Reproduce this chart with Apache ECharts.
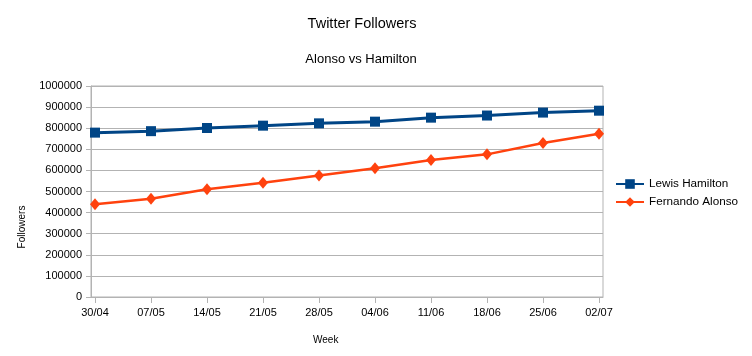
<!DOCTYPE html>
<html>
<head>
<meta charset="utf-8">
<script src="https://cdn.jsdelivr.net/npm/echarts@6/dist/echarts.min.js"></script>
<style>
html,body{margin:0;padding:0;background:#fff;}
#chart{width:752px;height:356px;}
</style>
</head>
<body>
<div id="chart"></div>
<script>
const weeks = ['30/04','07/05','14/05','21/05','28/05','04/06','11/06','18/06','25/06','02/07'];
const hamilton = [779000, 786000, 801000, 812000, 823000, 831000, 850000, 860000, 874000, 883000];
const alonso = [440000, 466000, 511000, 541000, 576000, 610000, 649000, 676000, 730000, 774000];
const yTicks = { min: 0, max: 1000000, interval: 100000 };

const FONT = '"Liberation Sans", Arial, sans-serif';
const GRAY = '#b3b3b3';
const chart = echarts.init(document.getElementById('chart'), null, { renderer: 'canvas' });

chart.setOption({
  animation: false,
  backgroundColor: '#ffffff',
  textStyle: { fontFamily: FONT },
  title: [
    { text: 'Twitter Followers', left: 357, top: 11, textAlign: 'center',
      textStyle: { fontFamily: FONT, fontSize: 14.5, fontWeight: 'normal', color: '#000' } },
    { text: 'Alonso vs Hamilton', left: 356, top: 48, textAlign: 'center',
      textStyle: { fontFamily: FONT, fontSize: 13, fontWeight: 'normal', color: '#000' } }
  ],
  graphic: [
    { type: 'text', left: 326 - 13, top: 335, style: { text: 'Week', font: '10px ' + FONT, fill: '#000' } },
    { type: 'text', x: 22, y: 227, rotation: Math.PI / 2,
      style: { text: 'Followers', font: '10px ' + FONT, fill: '#000', align: 'center', verticalAlign: 'middle' } }
  ],
  legend: {
    orient: 'vertical', left: 615, top: 178, padding: 0, itemWidth: 28, itemHeight: 12, itemGap: 6,
    textStyle: { fontFamily: FONT, fontSize: 11.7, color: '#000' },
    data: ['Lewis Hamilton', 'Fernando Alonso']
  },
  grid: [
    { left: 91, right: 149, top: 86, bottom: 59, show: true, borderColor: GRAY, borderWidth: 1, containLabel: false },
    { left: 95, right: 153, top: 86, bottom: 59, containLabel: false }
  ],
  xAxis: [
    { gridIndex: 0, type: 'category', data: weeks, boundaryGap: false,
      axisLine: { show: true, lineStyle: { color: GRAY } }, axisTick: { show: false }, axisLabel: { show: false }, splitLine: { show: false } },
    { gridIndex: 1, type: 'category', data: weeks, boundaryGap: false,
      axisLine: { show: false }, axisTick: { show: true, length: 6, lineStyle: { color: GRAY } },
      axisLabel: { margin: 10, fontFamily: FONT, fontSize: 11, color: '#000' }, splitLine: { show: false } }
  ],
  yAxis: [
    { gridIndex: 0, type: 'value', min: yTicks.min, max: yTicks.max, interval: yTicks.interval,
      axisLine: { show: true, lineStyle: { color: GRAY } }, axisTick: { show: true, length: 5, lineStyle: { color: GRAY } },
      axisLabel: { margin: 9, fontFamily: FONT, fontSize: 11, color: '#000', formatter: v => String(v) },
      splitLine: { show: true, lineStyle: { color: GRAY, width: 1 } } },
    { gridIndex: 1, type: 'value', min: yTicks.min, max: yTicks.max, interval: yTicks.interval, show: false }
  ],
  series: [
    { name: 'Lewis Hamilton', type: 'line', xAxisIndex: 1, yAxisIndex: 1, data: hamilton,
      symbol: 'rect', symbolSize: 10, showAllSymbol: true,
      lineStyle: { color: '#004586', width: 3 }, itemStyle: { color: '#004586' } },
    { name: 'Fernando Alonso', type: 'line', xAxisIndex: 1, yAxisIndex: 1, data: alonso,
      symbol: 'diamond', symbolSize: [10, 12], showAllSymbol: true,
      lineStyle: { color: '#ff420e', width: 2.5 }, itemStyle: { color: '#ff420e' } }
  ]
});
</script>
</body>
</html>
